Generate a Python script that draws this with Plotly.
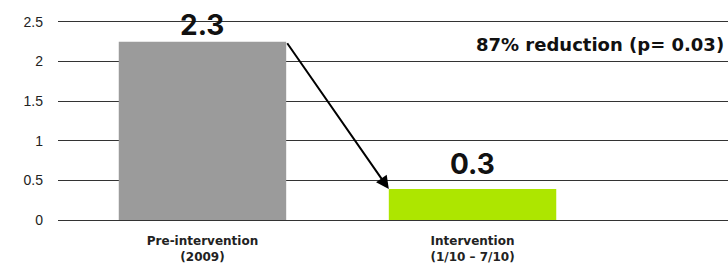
import plotly.graph_objects as go

categories = ["Pre-intervention", "Intervention"]
tick_labels = ["<b>Pre-intervention<br>(2009)</b>", "<b>Intervention<br>(1/10 – 7/10)</b>"]
values = [2.25, 0.39]
value_labels = ["2.3", "0.3"]
colors = ["#9b9b9b", "#ade600"]
y_ticks = [0, 0.5, 1, 1.5, 2, 2.5]
y_tick_text = ["0", "0.5", "1", "1.5", "2", "2.5"]
note = "87% reduction (p= 0.03)"

xpos = [0, 1]
bar_width = 0.62

fig = go.Figure()
fig.add_trace(go.Bar(x=xpos, y=values, width=bar_width, marker=dict(color=colors, line=dict(width=0)),
                     hoverinfo="skip"))

# value labels above bars
fig.add_annotation(x=xpos[0], y=values[0], yshift=-2, text="<b>" + value_labels[0] + "</b>", showarrow=False,
                   yanchor="bottom", font=dict(size=28, color="#111", family="Inter"))
fig.add_annotation(x=xpos[1], y=values[1], yshift=6, text="<b>" + value_labels[1] + "</b>", showarrow=False,
                   yanchor="bottom", font=dict(size=28, color="#111", family="Inter"))

# arrow from bar 1 top-right to bar 2 top-left
fig.add_annotation(x=xpos[1] - bar_width / 2, y=values[1], ax=xpos[0] + bar_width / 2, ay=values[0],
                   xref="x", yref="y", axref="x", ayref="y", showarrow=True, arrowhead=2,
                   arrowsize=1.3, arrowwidth=2, arrowcolor="#000", text="")

fig.add_annotation(x=1, xref="paper", xanchor="right", y=2.22, yref="y", text="<b>" + note + "</b>",
                   showarrow=False, font=dict(size=18, color="#111", family="DejaVu Sans"), xshift=-2)

fig.update_layout(
    width=728, height=267,
    margin=dict(l=58, r=0, t=20, b=47),
    paper_bgcolor="white", plot_bgcolor="white",
    showlegend=False,
    xaxis=dict(range=[-0.535, 1.946], tickvals=xpos, ticktext=tick_labels, showgrid=False,
               zeroline=False, showline=False, ticks="", ticklabelstandoff=12,
               tickfont=dict(size=12, color="#222", family="DejaVu Sans")),
    yaxis=dict(range=[0, 2.525], tickvals=y_ticks, ticktext=y_tick_text, showgrid=True,
               gridcolor="#333", gridwidth=1, zeroline=True, zerolinecolor="#333", zerolinewidth=1,
               showline=False, ticks="", ticklabelstandoff=14,
               tickfont=dict(size=14, color="#222", family="Liberation Sans")),
)

fig.write_html("out.html", config={"displayModeBar": False},
               post_script="document.body.style.margin='0';document.body.style.overflow='hidden';")
